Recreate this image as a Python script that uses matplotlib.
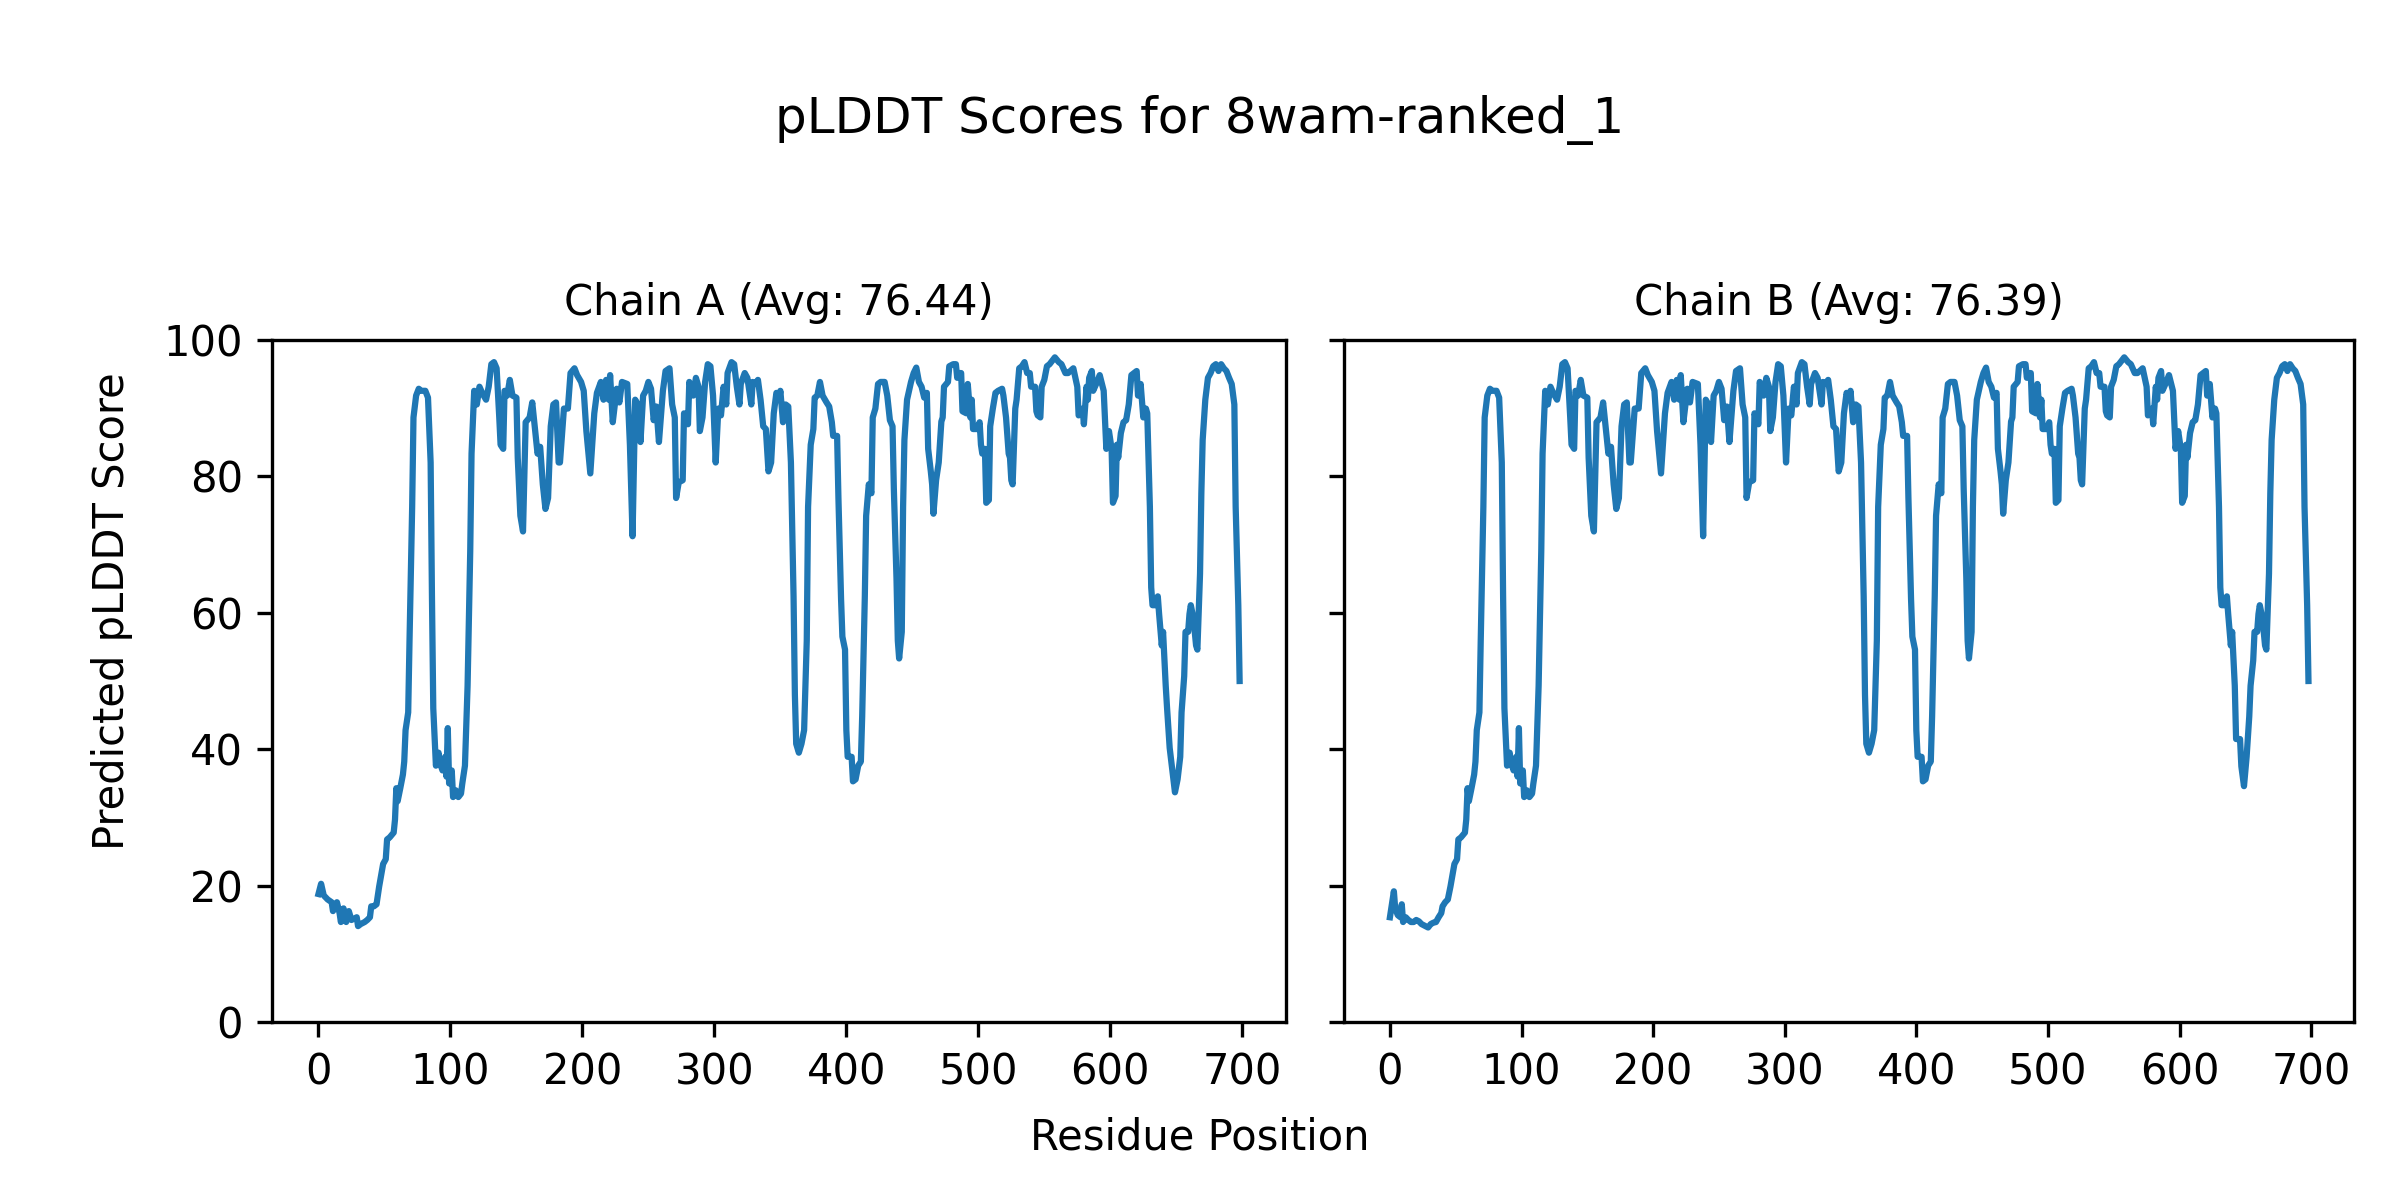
import matplotlib
matplotlib.use("Agg")
import matplotlib.pyplot as plt
import numpy as np

# ---------------- data ----------------
title_text = "pLDDT Scores for 8wam-ranked_1"
chain_titles = ["Chain A (Avg: 76.44)", "Chain B (Avg: 76.39)"]
x_label = "Residue Position"
y_label = "Predicted pLDDT Score"

# chain A, residues 0-45
a_start_pos = [0, 2, 4, 7, 10, 11, 14, 16, 17, 19, 21, 23, 25, 27, 29, 30, 32, 35, 37, 39, 40, 42, 44]
a_start_score = [18.8, 20.3, 18.6, 18.0, 17.6, 16.3, 17.6, 16.0, 14.7, 16.7, 14.7, 16.3, 15.0, 15.2, 15.4,
                 14.1, 14.4, 14.7, 15.0, 15.4, 17.0, 17.0, 17.3]

# chain B, residues 0-45
b_start_pos = [0, 1, 3, 4, 6, 8, 9, 10, 12, 14, 16, 18, 20, 22, 24, 27, 29, 31, 33, 35, 37, 39, 40, 42, 44]
b_start_score = [15.4, 16.7, 19.2, 16.7, 15.7, 15.4, 17.3, 14.7, 15.4, 15.0, 14.7, 14.7, 15.0, 14.8, 14.4,
                 14.1, 13.9, 14.4, 14.6, 14.7, 15.4, 16.0, 17.0, 17.6, 18.0]

# residues 46-639 (the same in both chains)
core_pos = [46, 49, 51, 52, 54, 57, 58, 59, 60, 62, 64, 65, 66, 68, 69, 71, 72, 74, 76, 78, 81, 83, 85, 86,
            87, 89, 91, 92, 94, 96, 97, 98, 99, 101, 102, 104, 105, 106, 108, 109, 111, 113, 115, 116, 118,
            120, 122, 124, 127, 129, 131, 133, 135, 137, 138, 140, 141, 143, 145, 147, 150, 151, 153, 155,
            157, 160, 162, 163, 166, 168, 170, 172, 174, 176, 178, 180, 182, 183, 186, 189, 191, 194, 196,
            199, 201, 203, 206, 209, 211, 214, 216, 218, 220, 221, 223, 226, 228, 230, 234, 236, 238, 240,
            242, 244, 246, 248, 250, 252, 254, 256, 258, 261, 263, 266, 268, 270, 271, 273, 276, 277, 280,
            281, 284, 286, 288, 289, 291, 293, 295, 297, 299, 301, 303, 305, 307, 309, 310, 313, 315, 317,
            319, 320, 323, 325, 328, 329, 331, 333, 335, 337, 339, 341, 343, 345, 347, 349, 350, 352, 354,
            356, 358, 360, 361, 362, 364, 366, 368, 370, 371, 373, 375, 376, 378, 380, 382, 385, 387, 389,
            390, 393, 394, 396, 397, 399, 400, 401, 404, 405, 407, 409, 411, 412, 414, 415, 417, 419, 420,
            422, 424, 426, 429, 431, 433, 435, 436, 438, 439, 440, 442, 443, 444, 446, 449, 451, 453, 455,
            457, 459, 461, 462, 464, 465, 466, 468, 470, 472, 473, 474, 477, 478, 481, 483, 484, 485, 487,
            488, 491, 492, 494, 495, 496, 499, 501, 502, 503, 505, 506, 508, 509, 511, 513, 515, 518, 519,
            521, 523, 524, 525, 526, 528, 529, 531, 533, 535, 537, 539, 540, 543, 544, 545, 547, 548, 550,
            552, 554, 558, 561, 563, 566, 568, 572, 575, 576, 578, 579, 580, 582, 583, 584, 586, 587, 590,
            592, 595, 597, 599, 601, 602, 604, 605, 606, 608, 610, 612, 614, 616, 618, 620, 621, 623, 625,
            627, 628, 630, 631, 632, 634, 636, 637, 639]
core_score = [19.9, 23.2, 23.9, 26.8, 27.1, 27.8, 29.7, 34.3, 32.4, 34.3, 36.3, 38.2, 42.8, 45.4, 55.9, 75.5,
              88.6, 91.8, 92.8, 92.5, 92.5, 91.5, 82.0, 62.4, 46.0, 37.6, 39.5, 38.0, 36.9, 38.9, 36.0,
              43.1, 35.0, 36.9, 33.0, 34.0, 33.7, 33.0, 33.5, 35.0, 37.6, 49.3, 69.0, 83.3, 92.5, 90.5,
              93.1, 92.2, 91.2, 93.1, 96.4, 96.7, 95.8, 88.6, 84.6, 84.0, 92.5, 91.8, 94.1, 91.8, 91.5,
              82.7, 74.2, 71.9, 87.9, 88.6, 90.8, 88.9, 83.3, 84.3, 78.8, 75.2, 76.8, 87.3, 90.5, 90.8,
              82.0, 82.0, 89.9, 89.9, 95.1, 95.8, 94.8, 93.8, 92.5, 86.6, 80.4, 89.2, 92.2, 93.8, 91.2,
              94.1, 91.2, 94.8, 87.9, 92.8, 90.8, 93.8, 93.5, 84.6, 71.2, 91.2, 90.5, 85.0, 91.8, 92.5,
              93.8, 92.8, 88.2, 90.2, 85.0, 92.5, 95.4, 95.8, 90.5, 88.6, 76.8, 79.1, 79.4, 89.2, 87.6,
              93.8, 91.8, 94.4, 93.1, 86.6, 88.6, 93.8, 96.4, 96.1, 91.8, 82.0, 89.9, 88.9, 93.1, 90.5,
              95.1, 96.7, 96.4, 93.1, 90.5, 93.5, 95.1, 94.4, 90.5, 93.8, 93.5, 94.1, 91.2, 87.3, 86.9,
              80.7, 82.0, 89.2, 92.2, 91.2, 92.5, 87.9, 90.5, 90.2, 82.0, 62.4, 48.0, 40.8, 39.5, 40.8,
              42.8, 55.9, 75.5, 84.6, 86.9, 91.5, 91.8, 93.8, 91.8, 90.8, 90.2, 87.9, 85.9, 85.9, 76.8,
              62.0, 56.5, 54.6, 42.8, 38.9, 38.9, 35.3, 35.6, 37.6, 38.2, 44.8, 62.4, 74.2, 78.8, 77.5,
              88.6, 89.9, 93.5, 93.8, 93.8, 91.8, 88.2, 87.3, 78.1, 65.0, 55.9, 53.3, 57.2, 75.5, 85.3,
              91.2, 93.8, 95.1, 95.9, 93.8, 93.1, 91.5, 92.2, 84.0, 80.7, 78.8, 74.5, 79.4, 82.0, 88.0,
              88.6, 93.1, 93.8, 96.1, 96.4, 96.4, 94.4, 95.1, 95.1, 89.5, 89.2, 93.5, 88.6, 91.2, 86.9,
              86.9, 87.9, 84.6, 83.3, 84.0, 76.1, 76.5, 87.3, 89.9, 92.2, 92.5, 92.8, 91.8, 88.6, 83.3,
              82.7, 79.4, 78.8, 89.9, 91.2, 95.8, 96.1, 96.7, 95.1, 95.1, 93.1, 93.1, 89.5, 88.9, 88.6,
              93.1, 94.1, 96.1, 96.4, 97.4, 96.7, 96.4, 95.1, 95.1, 95.8, 93.1, 88.9, 89.2, 89.9, 87.6,
              93.1, 91.2, 94.4, 95.4, 92.5, 93.8, 94.8, 92.5, 84.0, 86.6, 84.0, 76.1, 77.1, 84.6, 82.7,
              86.3, 87.9, 88.2, 90.5, 94.8, 95.1, 95.4, 91.8, 93.5, 88.6, 89.9, 89.2, 75.5, 63.7, 61.1,
              61.1, 62.4, 59.8, 55.2]

# chain A, residues 640-698
a_end_pos = [640, 642, 643, 645, 647, 649, 651, 653, 654, 656, 657, 659, 660, 661, 663, 665, 666, 668, 669,
             670, 672, 674, 676, 678, 680, 682, 684, 686, 688, 690, 692, 694, 695, 697, 698]
a_end_score = [57.2, 49.3, 46.1, 40.2, 36.9, 33.7, 35.6, 38.9, 45.4, 50.7, 57.2, 57.2, 59.8, 61.1, 59.2,
               55.2, 54.6, 65.7, 77.5, 85.3, 91.2, 94.4, 95.1, 96.1, 96.4, 95.4, 96.4, 95.8, 95.4, 94.4,
               93.5, 90.5, 75.5, 61.1, 50.0]

# chain B, residues 640-698
b_end_pos = [640, 642, 643, 646, 647, 649, 651, 653, 654, 656, 657, 659, 660, 661, 663, 665, 666, 668, 669,
             670, 672, 674, 676, 678, 680, 682, 684, 686, 688, 690, 692, 694, 695, 697, 698]
b_end_score = [57.2, 49.3, 41.5, 41.5, 37.5, 34.6, 38.9, 44.8, 49.3, 53.0, 57.2, 57.2, 59.8, 61.1, 59.2,
               55.2, 54.6, 65.7, 77.5, 85.3, 91.2, 94.4, 95.1, 96.1, 96.4, 95.4, 96.4, 95.8, 95.4, 94.4,
               93.5, 90.5, 75.5, 61.1, 50.0]

y_ticks = [0, 20, 40, 60, 80, 100]
x_ticks = [0, 100, 200, 300, 400, 500, 600, 700]

# ---------------- plotting ----------------
plt.rcParams['font.family'] = ['DejaVu Sans']
fig = plt.figure(figsize=(8, 4), dpi=300)
ax1 = fig.add_axes([0.1135, 0.148, 0.4222, 0.569])
ax2 = fig.add_axes([0.560, 0.148, 0.421, 0.569], sharey=ax1)

series = [
    (a_start_pos + core_pos + a_end_pos, a_start_score + core_score + a_end_score),
    (b_start_pos + core_pos + b_end_pos, b_start_score + core_score + b_end_score),
]

for ax, (xs, ys), t in zip([ax1, ax2], series, chain_titles):
    ax.plot(xs, ys, color='#1f77b4', linewidth=1.5)
    ax.set_title(t, fontsize=10)
    ax.set_xticks(x_ticks)
    ax.set_yticks(y_ticks)
    ax.set_ylim(0, 100)
    ax.tick_params(labelsize=10)

ax2.tick_params(labelleft=False)

fig.suptitle(title_text, fontsize=12, y=0.90, va='center')
fig.text(0.5, 0.052, x_label, ha='center', va='center', fontsize=10)
fig.text(0.0466, 0.491, y_label, ha='center', va='center', rotation=90, fontsize=10)

fig.savefig("out.png", dpi=300)
